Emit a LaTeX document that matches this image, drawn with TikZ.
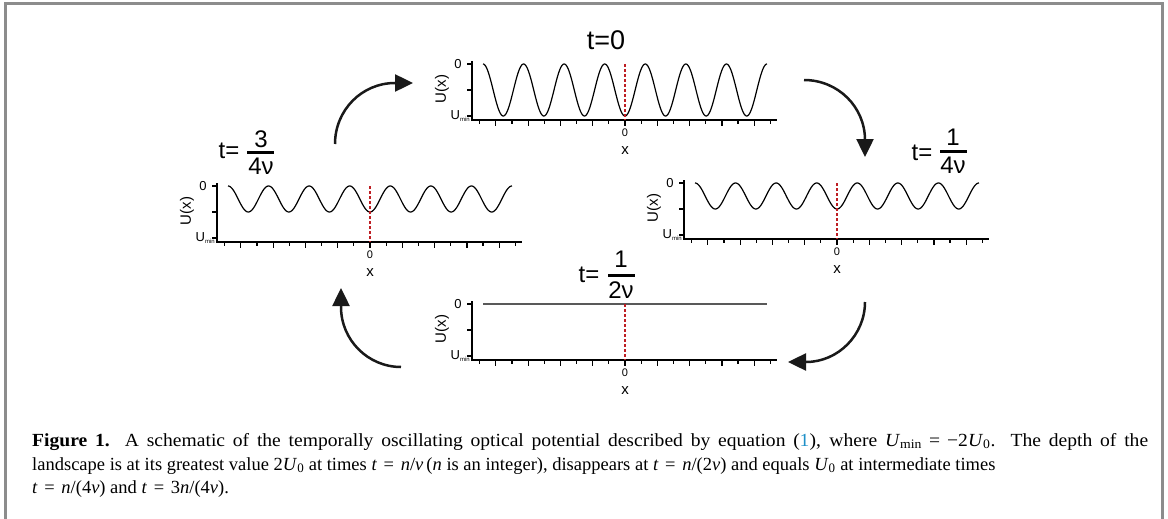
\documentclass[tikz,border=0pt]{standalone}
\usepackage{fontspec}
\setmainfont{Liberation Serif}
\newfontfamily\lsans{Liberation Sans}
\usetikzlibrary{arrows.meta}
\definecolor{dred}{RGB}{190,30,35}
\definecolor{linkblue}{RGB}{30,144,200}
\definecolor{framegray}{RGB}{140,140,140}
\definecolor{arrblack}{RGB}{25,25,25}
\newcommand\mi[1]{\textit{#1}}
\newcommand\sbs[1]{\textsubscript{#1}}
\newcommand\eqs{\hspace{0.36em}=\hspace{0.36em}}
\newcommand\fitline[2]{\resizebox{#1}{\height}{#2}}
\newcommand\pnl[5]{%
\begin{scope}[shift={(#1,#2)}]
  \draw[axisline] (0,-3) -- (0,56) -- (305,56);
  \foreach \yy in {0,26,52} \draw[tickline] (0,\yy) -- (-5,\yy);
  \foreach \k in {-4,...,4} \draw[tickline] ({153+\k*32.3},56) -- ++(0,6);
  \foreach \k in {-4.5,-3.5,...,4.5} \draw[tickline] ({153+\k*32.3},56) -- ++(0,3.5);
  \draw[#4] plot[smooth, domain=-142:142, samples=400] ({153+\x}, {#3*(1+cos(\x*8.8735))/2});
  \draw[reddash] (153,0) -- (153,56);
  \node[axlbl] (#5-zero) at (-14,0) {0};
  \node[axlbl, anchor=east] (#5-umin) at (-2,52) {U\raisebox{-0.35ex}{\fontsize{6}{6}\selectfont min}};
  \node[axlbl, font=\lsans\fontsize{15}{15}\selectfont, rotate=90] (#5-ux) at (-30,25) {U(x)};
  \node[axlbl, font=\lsans\fontsize{11}{11}\selectfont] (#5-x0) at (153,69) {0};
  \node[axlbl, font=\lsans\fontsize{15}{15}\selectfont] (#5-x) at (153,87) {x};
\end{scope}}
\begin{document}
\begin{tikzpicture}[x=1pt,y=-1pt,
  axisline/.style={line width=1.5pt, black},
  tickline/.style={line width=1.2pt, black},
  wavefull/.style={line width=1.2pt, black, line join=round},
  waveflat/.style={line width=1.3pt, black!65},
  reddash/.style={line width=2pt, dred, dash pattern=on 3pt off 2pt},
  axlbl/.style={inner sep=0pt, font=\lsans\fontsize{13}{13}\selectfont},
  ttl/.style={inner sep=0pt, font=\lsans\fontsize{24}{24}\selectfont},
  fracbar/.style={line width=3pt, black},
  arr/.style={line width=2.5pt, arrblack, -{Triangle[length=18pt,width=17pt]}},
  captext/.style={inner sep=0pt, anchor=base west, font=\fontsize{18.5}{22}\selectfont}]
\useasboundingbox (0,0) rectangle (1168,519);
\draw[framegray, line width=2.2pt] (5.5,519) -- (5.5,3.5) -- (1162.5,3.5) -- (1162.5,519);

% panels
\pnl{472}{64}{52}{wavefull}{top}
\pnl{217}{186}{26}{wavefull}{left}
\pnl{684}{183}{26}{wavefull}{right}
\pnl{472}{304}{0}{waveflat}{bot}

% titles
\node[ttl, font=\lsans\fontsize{27}{27}\selectfont] (ttop) at (606,40) {t=0};

\node[ttl] (tl-t) at (229,151) {t=};
\node[ttl] (tl-n) at (261,139) {3};
\node[ttl] (tl-d) at (261,166) {4ν};
\draw[fracbar] (247,152) -- (274,152);

\node[ttl] (tr-t) at (922,153) {t=};
\node[ttl] (tr-n) at (953,137) {1};
\node[ttl] (tr-d) at (953,165) {4ν};
\draw[fracbar] (940,151) -- (967,151);

\node[ttl] (tb-t) at (589,275) {t=};
\node[ttl] (tb-n) at (621,259) {1};
\node[ttl] (tb-d) at (621,290) {2ν};
\draw[fracbar] (608,275) -- (635,275);

% arrows
\coordinate (a1s) at (335,144); \coordinate (a1e) at (413,83);
\draw[arr] (a1s) .. controls (335,110) and (362,83) .. (395,83) -- (a1e);
\coordinate (a2s) at (804,80); \coordinate (a2e) at (865,157);
\draw[arr] (a2s) .. controls (838,80) and (865,107) .. (865,140) -- (a2e);
\coordinate (a3s) at (865,302); \coordinate (a3e) at (788,362);
\draw[arr] (a3s) .. controls (865,335) and (838,362) .. (806,362) -- (a3e);
\coordinate (a4s) at (401,367); \coordinate (a4e) at (341,288);
\draw[arr] (a4s) .. controls (368,367) and (341,340) .. (341,307) -- (a4e);

% caption
\node[captext] (cap1) at (32,446) {\fitline{1116pt}{\makebox[1055pt][s]{\textbf{Figure 1.} A schematic of the temporally oscillating optical potential described by equation ({\color{linkblue}1}), where \mi{U}\sbs{min}\eqs−2\mi{U}\sbs{0}. The depth of the}}};
\node[captext] (cap2) at (32,470) {landscape is at its greatest value 2\mi{U}\sbs{0} at times \mi{t}\eqs\mi{n}/\mi{ν}\,(\mi{n} is an integer), disappears at \mi{t}\eqs\mi{n}/(2\mi{ν}) and equals \mi{U}\sbs{0} at intermediate times};
\node[captext] (cap3) at (32,493) {\mi{t}\eqs\mi{n}/(4\mi{ν}) and \mi{t}\eqs 3\mi{n}/(4\mi{ν}).};
\end{tikzpicture}
\end{document}
